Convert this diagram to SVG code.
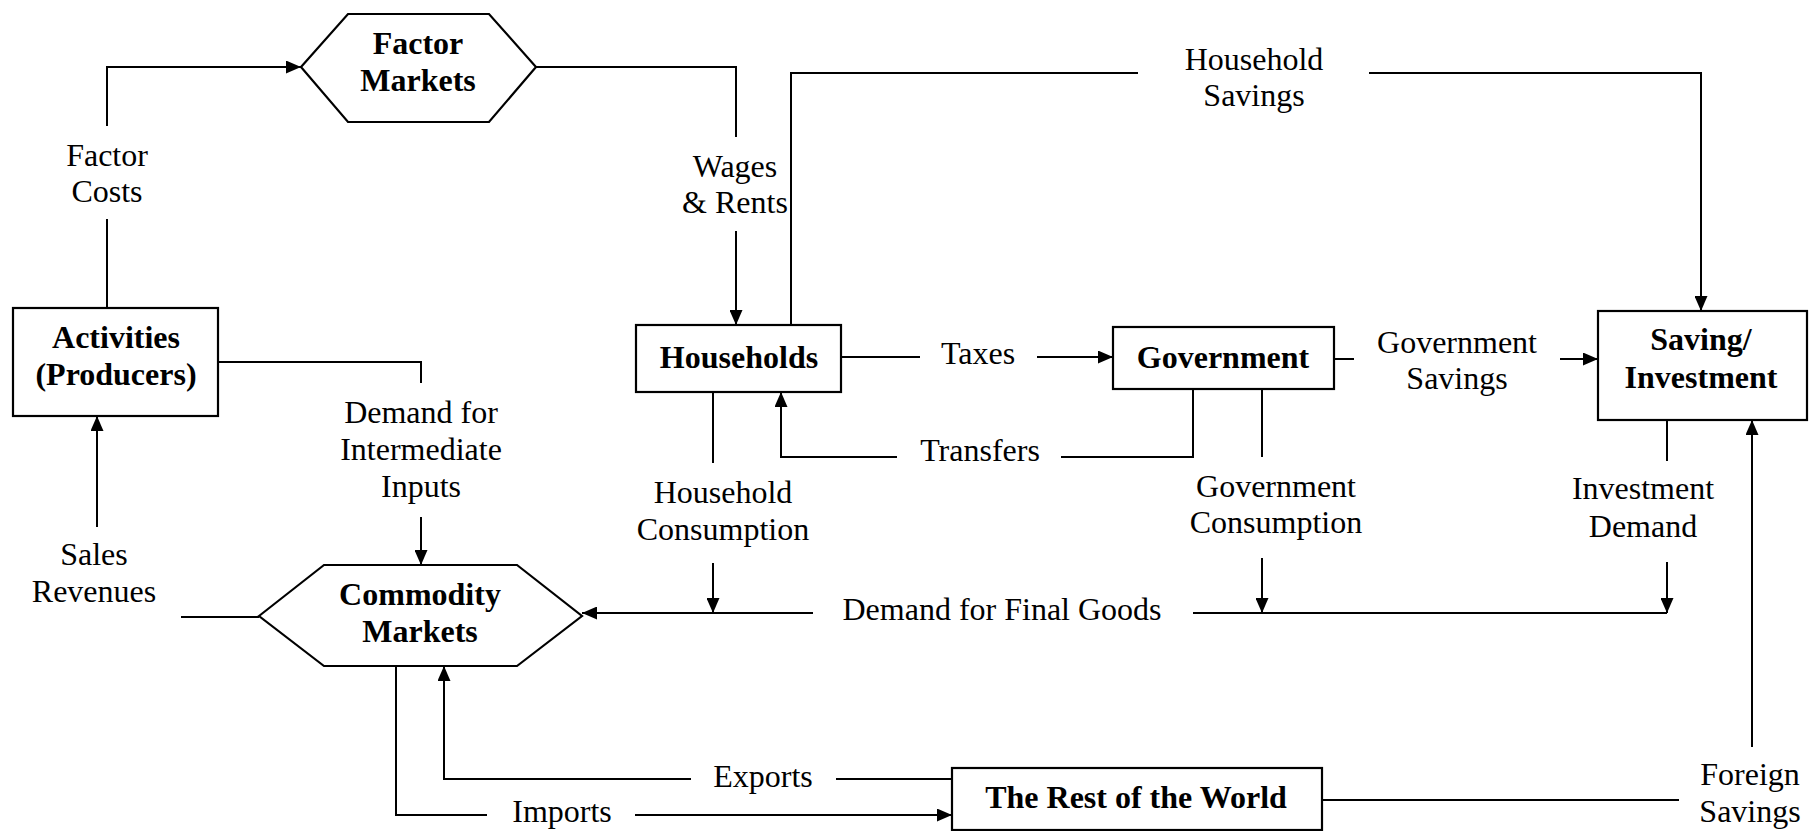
<svg xmlns="http://www.w3.org/2000/svg" width="1809" height="831" viewBox="0 0 1809 831">
  <style>
    .node { fill: #fff; stroke: #000; stroke-width: 2.2; }
    .title { font-family: "Liberation Serif", "Times New Roman", serif; font-size: 32px; font-weight: bold; text-anchor: middle; fill: #000; }
    .lbl { font-family: "Liberation Serif", "Times New Roman", serif; font-size: 32px; text-anchor: middle; fill: #000; }
    .flow { fill: none; stroke: #000; stroke-width: 2; }
    .arrow { fill: none; stroke: #000; stroke-width: 2; marker-end: url(#head); }
  </style>
  <defs>
    <marker id="head" markerUnits="userSpaceOnUse" markerWidth="15" markerHeight="13" refX="15" refY="6.5" orient="auto">
      <path d="M0,0 L15,6.5 L0,13 z" fill="#000"/>
    </marker>
  </defs>
  <rect width="1809" height="831" fill="#fff"/>

  <g id="connectors">
    <!-- Factor Costs -->
    <path class="flow" d="M107,308 V219"/>
    <path class="arrow" d="M107,126 V67 H301"/>
    <!-- Wages & Rents -->
    <path class="flow" d="M536,67 H736 V137"/>
    <path class="arrow" d="M736,231 V325"/>
    <!-- Household Savings -->
    <path class="flow" d="M791,325 V73 H1138"/>
    <path class="arrow" d="M1369,73 H1701 V311"/>
    <!-- Taxes -->
    <path class="flow" d="M841,357 H920"/>
    <path class="arrow" d="M1037,357 H1113"/>
    <!-- Government Savings -->
    <path class="flow" d="M1334,359 H1354"/>
    <path class="arrow" d="M1560,359 H1598"/>
    <!-- Transfers -->
    <path class="flow" d="M1193,389 V457 H1061"/>
    <path class="arrow" d="M897,457 H781 V392"/>
    <!-- Household Consumption -->
    <path class="flow" d="M713,392 V463"/>
    <path class="arrow" d="M713,563 V613"/>
    <!-- Government Consumption -->
    <path class="flow" d="M1262,389 V457"/>
    <path class="arrow" d="M1262,558 V613"/>
    <!-- Investment Demand -->
    <path class="flow" d="M1667,420 V461"/>
    <path class="arrow" d="M1667,562 V613"/>
    <!-- Demand for Final Goods -->
    <path class="flow" d="M1667,613 H1193"/>
    <path class="arrow" d="M813,613 H582"/>
    <!-- Demand for Intermediate Inputs -->
    <path class="flow" d="M218,362 H421 V383"/>
    <path class="arrow" d="M421,517 V565"/>
    <!-- Sales Revenues -->
    <path class="flow" d="M259,617 H181"/>
    <path class="arrow" d="M97,527 V416"/>
    <!-- Exports -->
    <path class="flow" d="M952,779 H836"/>
    <path class="arrow" d="M691,779 H444 V666"/>
    <!-- Imports -->
    <path class="flow" d="M396,663 V815 H487"/>
    <path class="arrow" d="M635,815 H952"/>
    <!-- Foreign Savings -->
    <path class="flow" d="M1322,800 H1679"/>
    <path class="arrow" d="M1752,747 V420"/>
  </g>

  <g id="labels">
    <text class="lbl" x="107" y="166">Factor</text>
    <text class="lbl" x="107" y="202">Costs</text>
    <text class="lbl" x="735" y="177">Wages</text>
    <text class="lbl" x="735" y="213">&amp; Rents</text>
    <text class="lbl" x="1254" y="70">Household</text>
    <text class="lbl" x="1254" y="106">Savings</text>
    <text class="lbl" x="978" y="364">Taxes</text>
    <text class="lbl" x="1457" y="353">Government</text>
    <text class="lbl" x="1457" y="389">Savings</text>
    <text class="lbl" x="421" y="423">Demand for</text>
    <text class="lbl" x="421" y="460">Intermediate</text>
    <text class="lbl" x="421" y="497">Inputs</text>
    <text class="lbl" x="980" y="461">Transfers</text>
    <text class="lbl" x="723" y="503">Household</text>
    <text class="lbl" x="723" y="540">Consumption</text>
    <text class="lbl" x="1276" y="497">Government</text>
    <text class="lbl" x="1276" y="533">Consumption</text>
    <text class="lbl" x="1643" y="499">Investment</text>
    <text class="lbl" x="1643" y="537">Demand</text>
    <text class="lbl" x="94" y="565">Sales</text>
    <text class="lbl" x="94" y="602">Revenues</text>
    <text class="lbl" x="1002" y="620">Demand for Final Goods</text>
    <text class="lbl" x="763" y="787">Exports</text>
    <text class="lbl" x="562" y="822">Imports</text>
    <text class="lbl" x="1750" y="785">Foreign</text>
    <text class="lbl" x="1750" y="822">Savings</text>
  </g>

  <g id="factor-markets">
    <polygon class="node" points="301,67 348,14 489,14 536,67 489,122 348,122"/>
    <text class="title" x="418" y="54">Factor</text>
    <text class="title" x="418" y="91">Markets</text>
  </g>

  <g id="activities">
    <rect class="node" x="13" y="308" width="205" height="108"/>
    <text class="title" x="116" y="348">Activities</text>
    <text class="title" x="116" y="385">(Producers)</text>
  </g>

  <g id="households">
    <rect class="node" x="636" y="325" width="205" height="67"/>
    <text class="title" x="739" y="368">Households</text>
  </g>

  <g id="government">
    <rect class="node" x="1113" y="327" width="221" height="62"/>
    <text class="title" x="1223" y="368">Government</text>
  </g>

  <g id="saving-investment">
    <rect class="node" x="1598" y="311" width="209" height="109"/>
    <text class="title" x="1701" y="350">Saving/</text>
    <text class="title" x="1701" y="388">Investment</text>
  </g>

  <g id="commodity-markets">
    <polygon class="node" points="259,616 324,565 517,565 582,616 517,666 324,666"/>
    <text class="title" x="420" y="605">Commodity</text>
    <text class="title" x="420" y="642">Markets</text>
  </g>

  <g id="rest-of-world">
    <rect class="node" x="952" y="768" width="370" height="62"/>
    <text class="title" x="1136" y="808">The Rest of the World</text>
  </g>
</svg>
